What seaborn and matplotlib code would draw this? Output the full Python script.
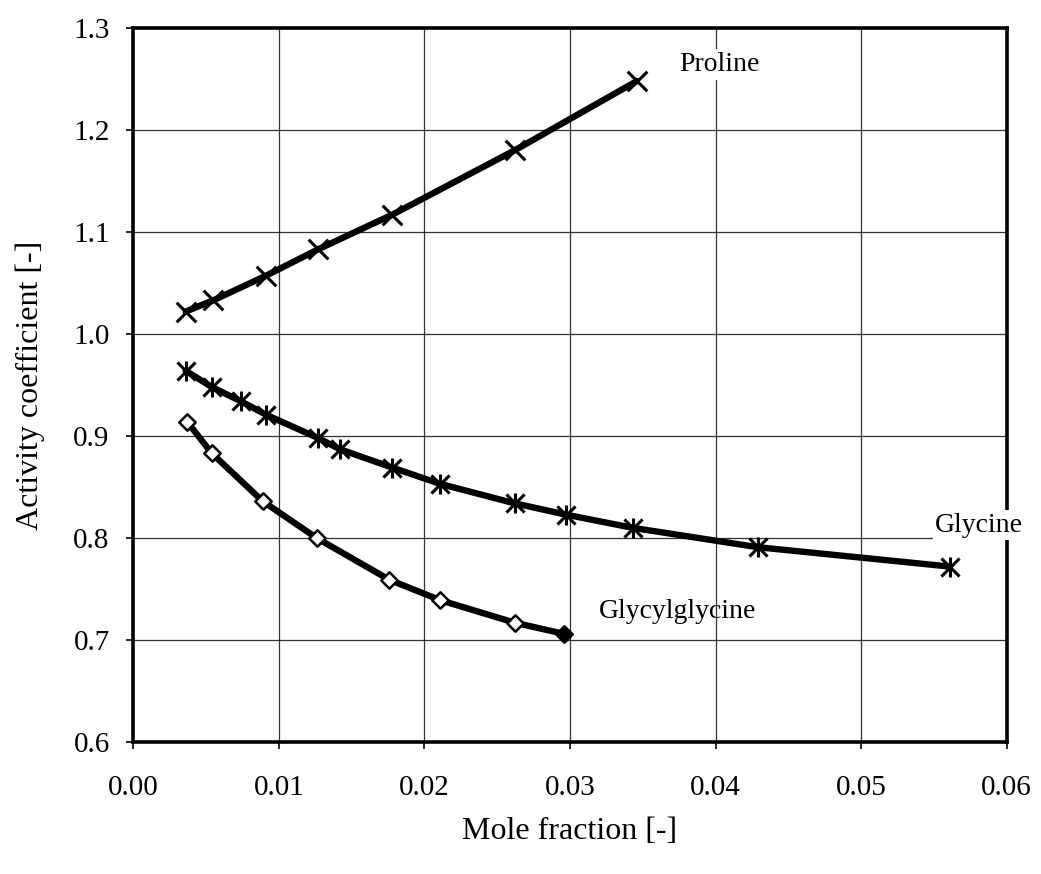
import matplotlib
matplotlib.use("Agg")
import matplotlib.pyplot as plt
import seaborn as sns
import pandas as pd

proline_x = [0.0036, 0.0055, 0.0091, 0.0127, 0.0178, 0.0262, 0.0346]
proline_y = [1.022, 1.033, 1.057, 1.083, 1.117, 1.180, 1.248]

glycine_x = [0.0036, 0.0054, 0.0074, 0.0091, 0.0127, 0.0142, 0.0178, 0.0211,
             0.0262, 0.0297, 0.0343, 0.0429, 0.0561]
glycine_y = [0.964, 0.948, 0.934, 0.921, 0.898, 0.887, 0.869, 0.853,
             0.834, 0.823, 0.810, 0.791, 0.772]

glygly_x = [0.0037, 0.0054, 0.0089, 0.0126, 0.0176, 0.0211, 0.0262, 0.0296]
glygly_y = [0.914, 0.883, 0.836, 0.800, 0.759, 0.739, 0.717, 0.706]

x_ticks = [0.00, 0.01, 0.02, 0.03, 0.04, 0.05, 0.06]
y_ticks = [0.6, 0.7, 0.8, 0.9, 1.0, 1.1, 1.2, 1.3]

sns.set_theme(style="white")
plt.rcParams['font.family'] = ['Liberation Serif', 'DejaVu Serif']
plt.rcParams['text.color'] = 'black'
plt.rcParams['axes.labelcolor'] = 'black'

fig = plt.figure(figsize=(10.41, 8.74), dpi=100)
ax = fig.add_axes([0.128, 0.151, 0.839, 0.817])

pro = pd.DataFrame({"x": proline_x, "y": proline_y})
gly = pd.DataFrame({"x": glycine_x, "y": glycine_y})
gg = pd.DataFrame({"x": glygly_x, "y": glygly_y})

for df in (pro, gly, gg):
    sns.lineplot(data=df, x="x", y="y", ax=ax, color="black", linewidth=4.6,
                 sort=False, zorder=3)

sns.scatterplot(data=pro, x="x", y="y", ax=ax, marker="x", s=200, color="black",
                linewidth=2.2, zorder=4)
sns.scatterplot(data=gly, x="x", y="y", ax=ax, marker="x", s=170, color="black",
                linewidth=2.2, zorder=4)
sns.scatterplot(data=gly, x="x", y="y", ax=ax, marker="|", s=220, color="black",
                linewidth=2.2, zorder=4)
sns.scatterplot(data=gg.iloc[:-1], x="x", y="y", ax=ax, marker="D", s=70,
                facecolor="white", edgecolor="black", linewidth=1.8, zorder=4)
sns.scatterplot(data=gg.iloc[-1:], x="x", y="y", ax=ax, marker="D", s=70,
                color="black", edgecolor="black", linewidth=1.8, zorder=4)

ax.set_xlim(0, 0.06)
ax.set_ylim(0.6, 1.3)
ax.set_xticks(x_ticks)
ax.set_xticklabels([f"{v:.2f}" for v in x_ticks])
ax.set_yticks(y_ticks)
ax.set_yticklabels([f"{v:.1f}" for v in y_ticks])
ax.grid(True, color="black", linewidth=0.9, alpha=0.8)
ax.set_axisbelow(True)
for s in ax.spines.values():
    s.set_visible(True)
    s.set_color("black")
    s.set_linewidth(2.6)
ax.tick_params(axis="both", labelsize=21, colors="black", length=5, width=1.2,
               direction="out", bottom=True, left=True)
ax.tick_params(axis="x", pad=19)
ax.tick_params(axis="y", pad=12)

ax.set_xlabel("Mole fraction [-]", fontsize=23, labelpad=11)
ax.set_ylabel("Activity coefficient [-]", fontsize=23, labelpad=20)

box = dict(facecolor="white", edgecolor="none", pad=2)
ax.text(0.0375, 1.264, "Proline", fontsize=20, va="center", ha="left",
        bbox=box, zorder=5)
ax.text(0.0551, 0.8127, "Glycine", fontsize=20, va="center", ha="left",
        bbox=box, zorder=5, clip_on=False)
ax.text(0.0320, 0.7275, "Glycylglycine", fontsize=20, va="center", ha="left",
        zorder=5)

fig.savefig("out.png", dpi=100, facecolor="white")
